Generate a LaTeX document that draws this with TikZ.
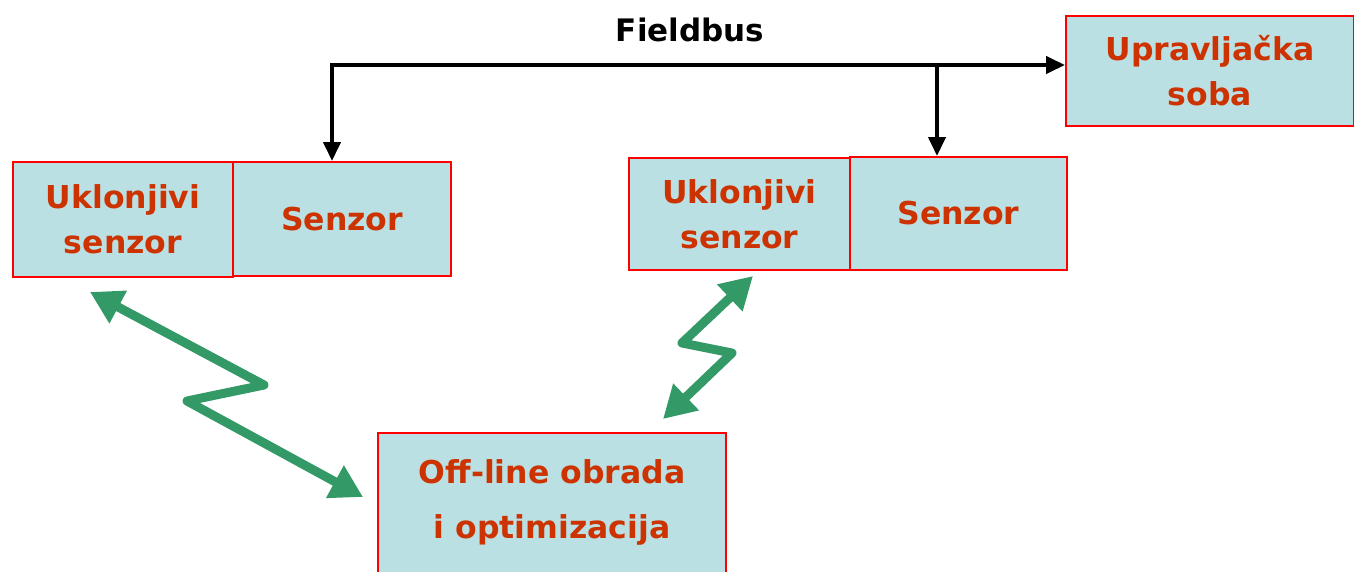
\documentclass[tikz,border=0pt]{standalone}
\usepackage{fontspec}
\setmainfont{DejaVu Sans}
\usetikzlibrary{arrows.meta}
\definecolor{boxfill}{HTML}{BBE0E3}
\definecolor{boxline}{HTML}{FF0000}
\definecolor{txt}{HTML}{CC3300}
\definecolor{zig}{HTML}{339966}
\tikzset{
  blk/.style={draw=boxline, line width=2pt, fill=boxfill, text=txt, align=center,
    font=\fontsize{31.5}{45}\selectfont\bfseries, inner sep=0pt},
  bus/.style={line width=4pt, black, line join=miter},
  btip/.tip={Triangle[length=19pt 0 0,width=17pt 0 0]},
  ztip/.tip={Triangle[length=32pt 0 0,width=35pt 0 0]},
  zz/.style={line width=9pt, zig, line join=round}
}
\begin{document}
\begin{tikzpicture}[x=1pt,y=-1pt]
\useasboundingbox (0,0) rectangle (1354,571);
\node[blk, minimum width=220pt, minimum height=115pt] (A) at (123,219.5) {Uklonjivi\\senzor};
\node[blk, minimum width=218pt, minimum height=114pt] (B) at (342,219) {Senzor};
\node[blk, minimum width=221pt, minimum height=112pt] (C) at (739.5,214) {Uklonjivi\\senzor};
\node[blk, minimum width=217pt, minimum height=113pt] (D) at (958.5,213.5) {Senzor};
\node[blk, minimum width=288pt, minimum height=110pt] (E) at (1210,71) {Upravljačka\\soba};
\node[blk, minimum width=348pt, minimum height=146pt] (F) at (552,506) {};
\node[text=txt, align=center, font=\fontsize{31.5}{55}\selectfont\bfseries] (Ft) at (552,502) {Off-line obrada\\i optimizacija};
\node[font=\fontsize{31}{40}\selectfont\bfseries] (fb) at (690,30) {Fieldbus};
\coordinate (b1) at (332,65);
\coordinate (b2) at (937,65);
\draw[bus, btip-btip] (b1 |- B.north) -- (b1) -- (E.west |- b1);
\draw[bus, -btip] (b2) -- (b2 |- D.north);
% zigzags
\coordinate (z1a) at (90,292);
\coordinate (z1b) at (264,385);
\coordinate (z1c) at (187,401);
\coordinate (z1d) at (363,497);
\draw[zz, ztip-ztip] (z1a) -- (z1b) -- (z1c) -- (z1d);
\coordinate (z2a) at (753,276);
\coordinate (z2b) at (682,343);
\coordinate (z2c) at (732,353);
\coordinate (z2d) at (663,419);
\draw[zz, ztip-ztip] (z2a) -- (z2b) -- (z2c) -- (z2d);
\end{tikzpicture}
\end{document}
